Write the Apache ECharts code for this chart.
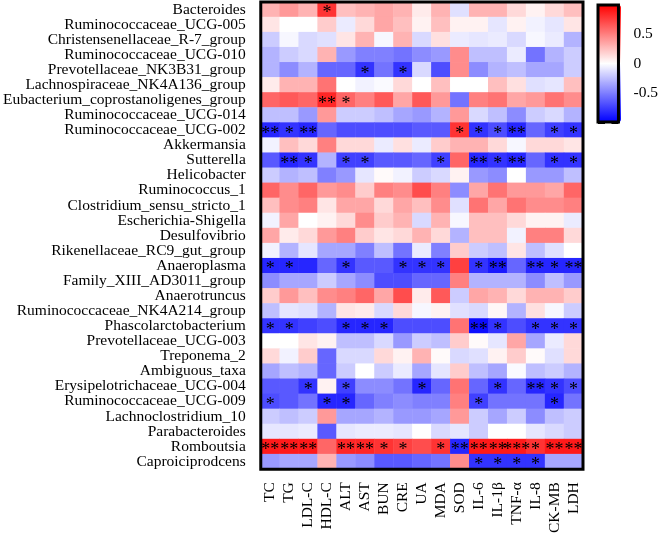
<!DOCTYPE html>
<html>
<head>
<meta charset="utf-8">
<script src="https://cdn.jsdelivr.net/npm/echarts@6/dist/echarts.min.js"></script>
<style>html,body{margin:0;padding:0;background:#fff;}#main{width:661px;height:536px;}</style>
</head>
<body>
<div id="main"></div>
<script>
var genera = ["Bacteroides","Ruminococcaceae_UCG-005","Christensenellaceae_R-7_group","Ruminococcaceae_UCG-010","Prevotellaceae_NK3B31_group","Lachnospiraceae_NK4A136_group","Eubacterium_coprostanoligenes_group","Ruminococcaceae_UCG-014","Ruminococcaceae_UCG-002","Akkermansia","Sutterella","Helicobacter","Ruminococcus_1","Clostridium_sensu_stricto_1","Escherichia-Shigella","Desulfovibrio","Rikenellaceae_RC9_gut_group","Anaeroplasma","Family_XIII_AD3011_group","Anaerotruncus","Ruminococcaceae_NK4A214_group","Phascolarctobacterium","Prevotellaceae_UCG-003","Treponema_2","Ambiguous_taxa","Erysipelotrichaceae_UCG-004","Ruminococcaceae_UCG-009","Lachnoclostridium_10","Parabacteroides","Romboutsia","Caproiciprodcens"];
var indicators = ["TC","TG","LDL-C","HDL-C","ALT","AST","BUN","CRE","UA","MDA","SOD","IL-6","IL-1β","TNF-α","IL-8","CK-MB","LDH"];
var colorbarTicks = [-0.5, 0, 0.5];
var correlations = [
 [0.3,0.4,0.3,0.8,0.25,0.3,0.35,0.3,0.08,0.3,-0.12,0.3,0.3,0.15,0.05,0.15,0.25],
 [0.1,0,0,0.2,-0.08,0.15,0.35,0.25,0.05,0.25,0.05,0.05,-0.1,0.05,-0.05,-0.1,0.1],
 [-0.2,-0.03,-0.15,-0.12,0.1,0.3,-0.03,0.3,-0.15,0.12,-0.08,-0.1,-0.08,-0.15,-0.03,-0.08,-0.3],
 [-0.3,-0.2,-0.15,0.3,-0.4,-0.5,-0.5,-0.55,-0.45,-0.4,0.45,-0.25,-0.25,-0.08,-0.55,-0.3,-0.2],
 [-0.3,-0.45,-0.3,-0.6,-0.6,-0.8,-0.55,-0.8,-0.15,-0.7,0.45,-0.45,-0.3,-0.25,-0.35,-0.35,-0.2],
 [0.08,0.3,0.3,0.55,0,-0.05,-0.02,0.15,0,0.25,0,0,0.25,0.12,-0.12,-0.1,0.25],
 [0.6,0.65,0.6,0.85,0.6,0.5,0.65,0.35,0.65,0.4,-0.55,0.5,0.55,0.35,0.4,0.55,0.45],
 [-0.25,-0.25,-0.4,0.4,-0.2,-0.2,-0.25,-0.35,-0.4,-0.3,0.4,-0.15,-0.25,-0.45,-0.2,-0.15,-0.3],
 [-0.85,-0.8,-0.85,-0.6,-0.7,-0.7,-0.7,-0.7,-0.65,-0.65,0.8,-0.8,-0.7,-0.85,-0.6,-0.75,-0.8],
 [-0.05,0.25,0.15,0.5,0.15,0.15,-0.08,0.12,-0.08,0.2,0.3,0.3,0.15,-0.03,0.15,0.15,0.1],
 [-0.65,-0.85,-0.8,-0.3,-0.75,-0.75,-0.65,-0.65,-0.6,-0.75,0.6,-0.85,-0.8,-0.85,-0.6,-0.8,-0.8],
 [-0.2,-0.3,-0.25,-0.5,-0.4,-0.1,0.02,-0.05,-0.2,-0.15,0.05,-0.4,-0.45,0,-0.4,-0.4,-0.25],
 [0.6,0.45,0.6,0.4,0.45,0.2,0.5,0.45,0.7,0.5,-0.45,0.35,0.55,0.4,0.4,0.35,0.6],
 [0.25,0.45,0.5,0.1,0.35,0.35,0.15,0.35,0.25,0.45,-0.12,0.55,0.35,0.55,0.45,0.45,0.5],
 [-0.05,0.35,0,0.05,0.15,0.45,0.2,0.3,-0.15,0.3,-0.03,0.25,0.25,0.15,0.05,0.05,-0.08],
 [0.35,0.08,0.15,0.4,0.5,0.2,0.1,0.15,0.3,0.15,-0.3,0.25,0.25,-0.05,0.5,0.5,0.15],
 [-0.05,-0.3,-0.1,-0.35,-0.35,-0.5,-0.25,-0.55,-0.08,-0.5,0.2,-0.2,-0.25,0.1,-0.25,-0.12,0],
 [-0.85,-0.85,-0.85,-0.6,-0.8,-0.65,-0.65,-0.8,-0.8,-0.8,0.75,-0.8,-0.9,-0.6,-0.85,-0.85,-0.85],
 [-0.45,-0.35,-0.35,-0.2,-0.35,-0.45,-0.7,-0.7,-0.6,-0.6,0.5,-0.3,-0.3,-0.3,-0.45,-0.25,-0.4],
 [0.2,0.4,0.25,0.45,0.5,0.6,0.35,0.7,0.08,0.65,-0.2,0.35,0.3,0.15,0.3,0.3,0.2],
 [-0.25,-0.1,-0.12,-0.3,0.1,0.08,-0.15,0.15,-0.03,0.05,-0.12,-0.15,0.03,-0.3,0.12,-0.03,-0.2],
 [-0.8,-0.8,-0.75,-0.7,-0.85,-0.85,-0.85,-0.7,-0.7,-0.7,0.55,-0.95,-0.8,-0.7,-0.8,-0.8,-0.8],
 [0,0,0.1,0.05,-0.25,-0.25,-0.15,-0.4,-0.2,-0.25,0.2,0.02,-0.1,0.35,-0.35,-0.08,0.15],
 [0.15,-0.05,0.2,-0.6,-0.15,-0.15,0.15,0.05,0.3,0.02,-0.15,-0.12,0.05,0.2,0.02,-0.12,0.15],
 [-0.35,-0.25,-0.3,-0.6,-0.2,0,-0.2,-0.08,-0.35,-0.1,0.2,-0.25,-0.35,-0.02,-0.25,-0.2,-0.3],
 [-0.65,-0.65,-0.8,0.05,-0.75,-0.45,-0.45,-0.55,-0.85,-0.6,0.55,-0.6,-0.8,-0.6,-0.85,-0.8,-0.7],
 [-0.7,-0.65,-0.55,-0.85,-0.85,-0.6,-0.5,-0.45,-0.5,-0.5,0.5,-0.75,-0.55,-0.55,-0.55,-0.85,-0.55],
 [-0.2,-0.25,-0.2,0.4,-0.35,-0.35,-0.3,-0.4,-0.4,-0.35,0.4,-0.2,-0.35,-0.2,-0.45,-0.25,-0.2],
 [-0.1,-0.1,-0.08,-0.65,-0.1,-0.08,-0.08,-0.1,0,-0.15,-0.1,-0.2,0,0,-0.1,-0.15,-0.2],
 [0.9,0.9,0.9,0.6,0.85,0.85,0.8,0.75,0.7,0.8,-0.85,0.9,0.9,0.9,0.8,0.9,0.9],
 [-0.4,-0.35,-0.35,0.3,-0.4,-0.45,-0.65,-0.65,-0.6,-0.55,0.45,-0.8,-0.8,-0.8,-0.8,-0.35,-0.35]
];
// [row, column, significance]
var significance = [
 [0,3,"*"],[4,5,"*"],[4,7,"*"],[6,3,"**"],[6,4,"*"],
 [8,0,"**"],[8,1,"*"],[8,2,"**"],[8,10,"*"],[8,11,"*"],[8,12,"*"],[8,13,"**"],[8,15,"*"],[8,16,"*"],
 [10,1,"**"],[10,2,"*"],[10,4,"*"],[10,5,"*"],[10,9,"*"],[10,11,"**"],[10,12,"*"],[10,13,"**"],[10,15,"*"],[10,16,"*"],
 [17,0,"*"],[17,1,"*"],[17,4,"*"],[17,7,"*"],[17,8,"*"],[17,9,"*"],[17,11,"*"],[17,12,"**"],[17,14,"**"],[17,15,"*"],[17,16,"**"],
 [21,0,"*"],[21,1,"*"],[21,4,"*"],[21,5,"*"],[21,6,"*"],[21,11,"**"],[21,12,"*"],[21,14,"*"],[21,15,"*"],[21,16,"*"],
 [25,2,"*"],[25,4,"*"],[25,8,"*"],[25,12,"*"],[25,14,"**"],[25,15,"*"],[25,16,"*"],
 [26,0,"*"],[26,3,"*"],[26,4,"*"],[26,11,"*"],[26,15,"*"],
 [29,0,"**"],[29,1,"**"],[29,2,"**"],[29,4,"**"],[29,5,"**"],[29,6,"*"],[29,7,"*"],[29,9,"*"],[29,10,"**"],[29,11,"**"],[29,12,"**"],[29,13,"***"],[29,14,"*"],[29,15,"**"],[29,16,"**"],
 [30,11,"*"],[30,12,"*"],[30,13,"*"],[30,14,"*"]
];

var sigMap = {};
significance.forEach(function(s){ sigMap[s[0] + "_" + s[1]] = s[2]; });
var data = [];
correlations.forEach(function(row, r){
  row.forEach(function(v, c){ data.push([c, r, v, sigMap[r + "_" + c] || ""]); });
});

var FONT = "Liberation Serif";
var chart = echarts.init(document.getElementById('main'), null, {renderer:'canvas'});
chart.setOption({
  animation: false,
  backgroundColor: '#fff',
  grid: [
    {left: 259, top: 2, width: 324, height: 468, show: true, borderColor: '#000', borderWidth: 3, backgroundColor: 'transparent', z: 10},
    {left: 598, top: 5, width: 23, height: 117, show: true, borderColor: '#000', borderWidth: 3, backgroundColor: 'transparent', z: 10}
  ],
  xAxis: [
    {type: 'category', data: indicators, gridIndex: 0, position: 'bottom',
     axisLine: {show: false}, axisTick: {show: false}, splitLine: {show: false},
     axisLabel: {rotate: 90, margin: 13, color: '#000', fontFamily: FONT, fontSize: 15.5, interval: 0}},
    {type: 'category', data: ['bar'], gridIndex: 1, show: false}
  ],
  yAxis: [
    {type: 'category', data: genera, gridIndex: 0, inverse: true,
     axisLine: {show: false}, axisTick: {show: false}, splitLine: {show: false},
     axisLabel: {margin: 15, color: '#000', fontFamily: FONT, fontSize: 15.5, interval: 0}},
    {type: 'value', gridIndex: 1, min: -1, max: 1, interval: 0.5, position: 'left',
     axisLine: {show: false}, splitLine: {show: false}, axisLabel: {show: false},
     axisTick: {show: true, inside: true, length: 7, lineStyle: {color: '#000', width: 3}}},
    {type: 'value', gridIndex: 1, min: -1, max: 1, interval: 0.5, position: 'right',
     axisLine: {show: false}, splitLine: {show: false},
     axisTick: {show: true, inside: true, length: 7, lineStyle: {color: '#000', width: 3}},
     axisLabel: {show: true, margin: 15, color: '#000', fontFamily: FONT, fontSize: 15.5,
       formatter: function(v){ return colorbarTicks.indexOf(v) >= 0 ? String(v) : ''; }}}
  ],
  visualMap: {
    type: 'continuous', min: -1, max: 1, seriesIndex: 0, dimension: 2, calculable: false,
    orient: 'vertical', left: 598, top: 5, itemWidth: 23, itemHeight: 117, padding: 0,
    inRange: {color: ['#0000FF', '#FFFFFF', '#FF0000']}, hoverLink: false
  },
  series: [{
    type: 'heatmap', xAxisIndex: 0, yAxisIndex: 0, data: data,
    label: {show: true, color: '#000', fontFamily: FONT, fontSize: 18, offset: [0, 4],
      formatter: function(p){ return p.data[3]; }},
    itemStyle: {borderWidth: 0},
    emphasis: {disabled: true}
  }]
});
</script>
</body>
</html>
